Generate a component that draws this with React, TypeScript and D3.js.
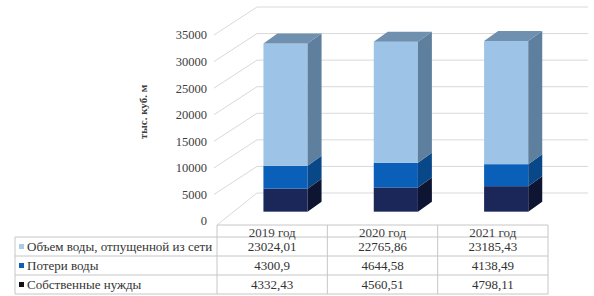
import React from 'react';
import * as d3 from 'd3';

const years = ['2019 год', '2020 год', '2021 год'];
const seriesNames = ['Объем воды, отпущенной из сети', 'Потери воды', 'Собственные нужды'];
const supplied = [23024.01, 22765.86, 23185.43];
const losses = [4300.9, 4644.58, 4138.49];
const ownNeeds = [4332.43, 4560.51, 4798.11];
const yTicks = [0, 5000, 10000, 15000, 20000, 25000, 30000, 35000];

const W = 594;
const H = 296;

// face colours: front, side, top
const palette = [
  { front: '#9dc3e6', side: '#5f7f9e', top: '#7090b0', key: '#a9cbe9' },
  { front: '#0a60b8', side: '#084888', top: '#0a52a0', key: '#0a60b8' },
  { front: '#1b2759', side: '#0e1533', top: '#141d45', key: '#111111' },
];

const fmt = (v: number) => String(v).replace('.', ',');
const serif = "'Liberation Serif', 'DejaVu Serif', serif";
const txt = { fontFamily: serif };

const App: React.FC = () => {
  const yF = d3.scaleLinear().domain([0, 35000]).range([221, 35]);
  const x = d3.scaleBand().domain(years).range([217, 548]);
  const depth = { dx: 40, dy: -28 };
  const wallLeft = 217 + depth.dx;
  const wallRight = 588;

  // stack bottom -> top: own needs, losses, supplied
  const rows = years.map((y, i) => ({ year: y, own: ownNeeds[i], loss: losses[i], sup: supplied[i] }));
  const stack = d3.stack<any>().keys(['own', 'loss', 'sup'])(rows);
  const colorFor = [palette[2], palette[1], palette[0]];

  const barW = x.bandwidth() * 0.4;
  const f0 = 1 / 3;
  const bd = { dx: 14, dy: -10 };

  const tableTop = 225;
  const rowLines = [237, 256, 275, 294];
  const labelLeft = 15;

  const tableRows = [
    { name: seriesNames[0], values: supplied, c: palette[0].key },
    { name: seriesNames[1], values: losses, c: palette[1].key },
    { name: seriesNames[2], values: ownNeeds, c: palette[2].key },
  ];

  return (
    <svg width={W} height={H} style={{ position: 'absolute', left: 0, top: 0, background: '#fff' }}>
      {/* side wall and back wall gridlines */}
      {yTicks.map(t => (
        <g key={t} stroke="#d9d9d9" strokeWidth={1} fill="none">
          <line x1={t === 0 ? 217 : 214} y1={t === 0 ? 225 : yF(t)} x2={wallLeft} y2={yF(t) + depth.dy} />
          <line x1={wallLeft} y1={yF(t) + depth.dy} x2={wallRight} y2={yF(t) + depth.dy} />
        </g>
      ))}

      {/* y axis labels */}
      {yTicks.map(t => (
        <text key={t} x={207} y={yF(t)} dy="0.35em" textAnchor="end" fontSize={12.5} fill="#404040" style={txt}>
          {t}
        </text>
      ))}
      <text
        transform={`translate(147,112) rotate(-90)`}
        textAnchor="middle"
        fontSize={11}
        fontWeight="bold"
        fill="#404040"
        style={txt}
      >
        тыс. куб. м
      </text>

      {/* 3d stacked columns */}
      {years.map((yr, i) => {
        const x0 = (x(yr) as number) + x.bandwidth() / 2 - barW / 2 + depth.dx * f0;
        const x1 = x0 + barW;
        const off = depth.dy * f0;
        const segs = stack.map((s, k) => {
          const yb = yF(s[i][0]) + off;
          const yt = yF(s[i][1]) + off;
          const c = colorFor[k];
          return (
            <g key={k}>
              <rect x={x0} y={yt} width={barW} height={yb - yt} fill={c.front} />
              <path
                d={`M${x1},${yb}L${x1 + bd.dx},${yb + bd.dy}L${x1 + bd.dx},${yt + bd.dy}L${x1},${yt}Z`}
                fill={c.side}
              />
            </g>
          );
        });
        const topV = yF(stack[2][i][1]) + off;
        return (
          <g key={yr}>
            {segs}
            <path
              d={`M${x0},${topV}L${x0 + bd.dx},${topV + bd.dy}L${x1 + bd.dx},${topV + bd.dy}L${x1},${topV}Z`}
              fill={palette[0].top}
            />
          </g>
        );
      })}

      {/* data table */}
      <g stroke="#c6c6c6" strokeWidth={1} fill="none">
        <line x1={217} y1={tableTop} x2={548} y2={tableTop} />
        {rowLines.map(r => (
          <line key={r} x1={labelLeft} y1={r} x2={548} y2={r} />
        ))}
        <line x1={labelLeft} y1={rowLines[0]} x2={labelLeft} y2={rowLines[3]} />
        {[...years.map(y => x(y) as number), 548].map((cx, j) => (
          <line key={j} x1={cx} y1={tableTop} x2={cx} y2={rowLines[3]} />
        ))}
      </g>
      {years.map(yr => (
        <text
          key={yr}
          x={(x(yr) as number) + x.bandwidth() / 2}
          y={232}
          dy="0.35em"
          textAnchor="middle"
          fontSize={13}
          fill="#404040"
          style={txt}
        >
          {yr}
        </text>
      ))}
      {tableRows.map((r, k) => {
        const cy = (rowLines[k] + rowLines[k + 1]) / 2;
        return (
          <g key={k}>
            <rect x={19} y={cy - 2.5} width={5} height={5} fill={r.c} />
            <text x={27} y={cy} dy="0.35em" fontSize={13} fill="#333" style={txt}>
              {r.name}
            </text>
            {r.values.map((v, i) => (
              <text
                key={i}
                x={(x(years[i]) as number) + x.bandwidth() / 2}
                y={cy}
                dy="0.35em"
                textAnchor="middle"
                fontSize={13}
                fill="#333"
                style={txt}
              >
                {fmt(v)}
              </text>
            ))}
          </g>
        );
      })}
    </svg>
  );
};

export default App;
